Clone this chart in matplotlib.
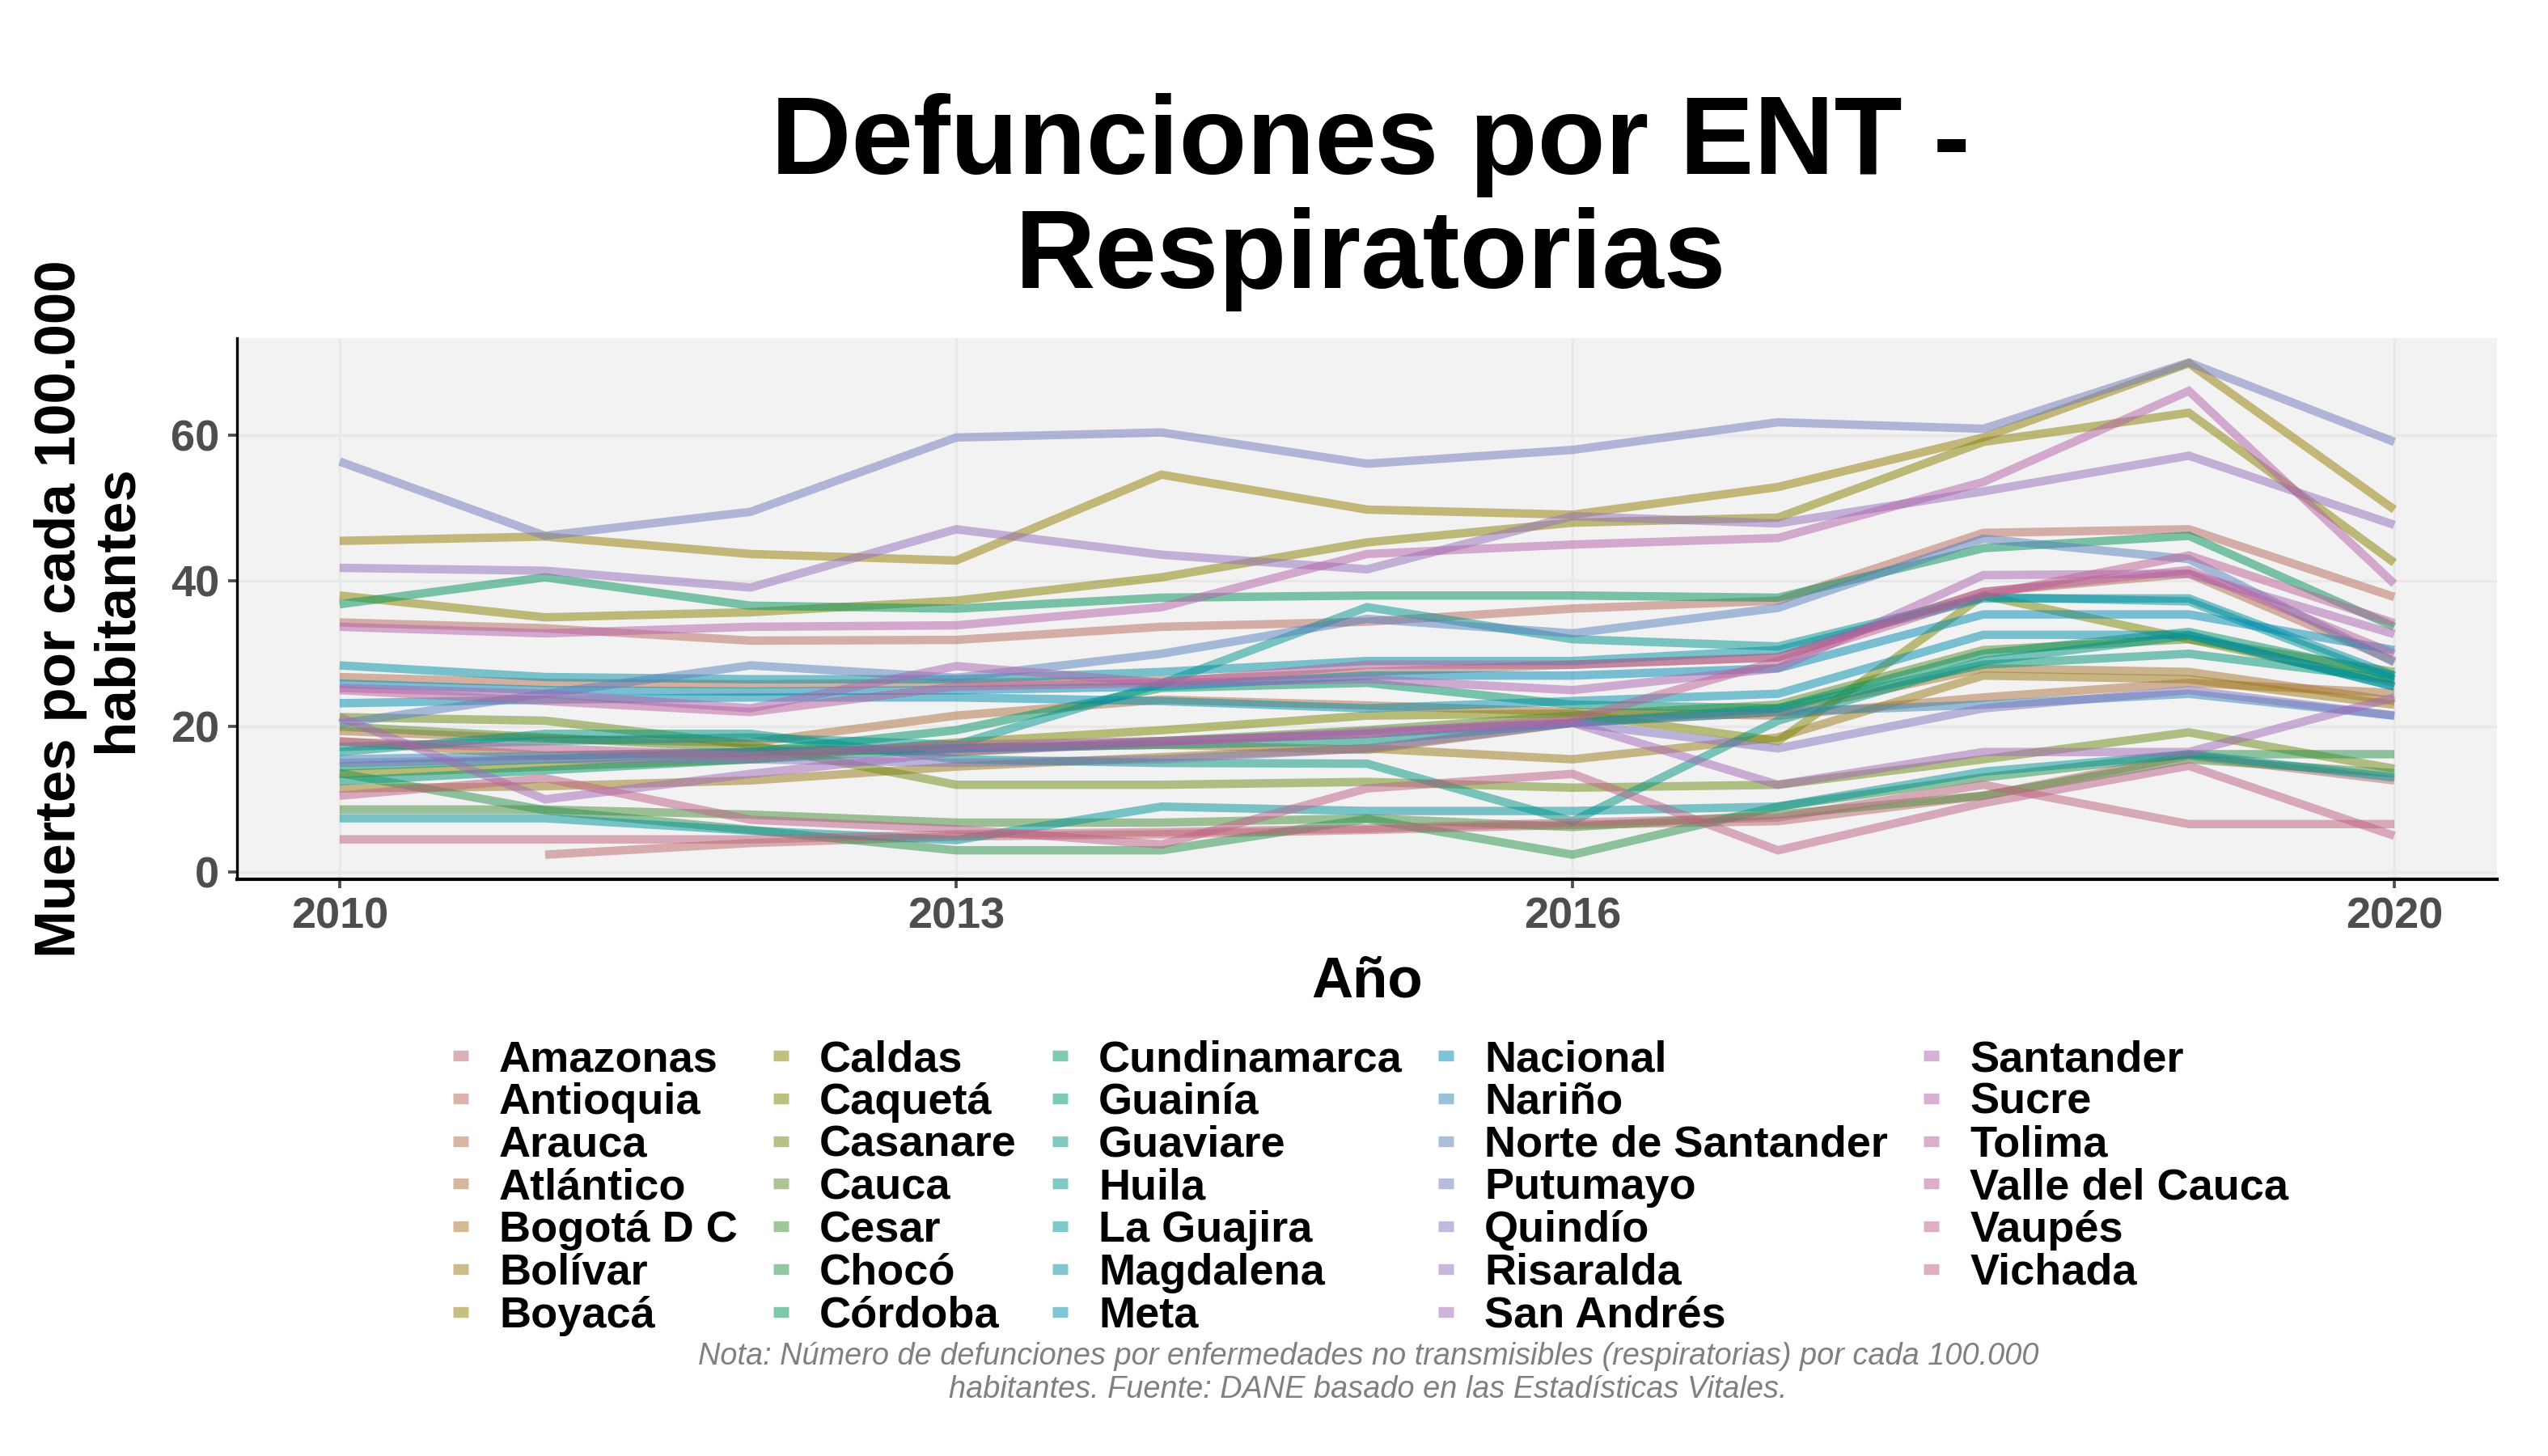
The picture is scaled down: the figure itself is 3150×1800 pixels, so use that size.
"""Defunciones por ENT - Respiratorias: líneas por departamento."""

import numpy as np
import matplotlib
matplotlib.use("Agg")
import matplotlib.pyplot as plt
from matplotlib.lines import Line2D

# ---------------------------------------------------------------------------
# Data (muertes por cada 100.000 habitantes)
# ---------------------------------------------------------------------------

YEARS = [2010, 2011, 2012, 2013, 2014, 2015, 2016, 2017, 2018, 2019, 2020]
X_TICKS = [2010, 2013, 2016, 2020]
Y_TICKS = [0, 20, 40, 60]

NAN = np.nan
amazonas = [NAN, 2.4, 4.0, 4.9, 5.2, 5.8, 6.5, 7.0, 10.5, 16.0, 12.6]
antioquia = [34.3, 33.5, 31.8, 31.9, 33.7, 34.4, 36.2, 37.3, 46.6, 47.1, 37.8]
arauca = [26.8, 26.0, 25.8, 26.0, 26.3, 27.5, 28.5, 29.5, 38.5, 41.0, 29.0]
atlantico = [19.4, 18.3, 17.8, 21.5, 23.7, 22.9, 22.0, 21.5, 24.0, 26.0, 24.6]
bogota = [18.0, 16.0, 16.5, 17.0, 17.5, 16.8, 20.5, 22.0, 28.0, 27.5, 23.5]
bolivar = [11.5, 11.8, 12.6, 14.5, 15.8, 17.0, 15.5, 18.5, 27.0, 26.5, 23.0]
boyaca = [45.5, 46.1, 43.7, 42.8, 54.6, 49.8, 49.1, 52.9, 59.7, 69.9, 49.8]
caldas = [38.0, 35.0, 35.7, 37.3, 40.5, 45.3, 48.0, 48.7, 59.1, 63.1, 42.5]
caqueta = [13.5, 14.5, 15.5, 17.8, 19.5, 21.5, 21.8, 18.0, 38.0, 32.0, 26.0]
casanare = [21.3, 20.8, 17.5, 12.0, 12.0, 12.4, 11.6, 12.0, 15.5, 19.2, 14.2]
cauca = [20.0, 18.5, 17.0, 16.5, 18.0, 19.5, 21.5, 23.0, 30.5, 32.0, 27.5]
cesar = [8.6, 8.6, 7.9, 6.8, 6.8, 7.4, 6.2, 7.9, 10.5, 15.5, 13.6]
choco = [13.6, 8.5, 5.8, 3.0, 3.0, 7.3, 2.4, 9.0, 13.0, 16.2, 16.2]
cordoba = [36.8, 40.5, 36.6, 36.2, 37.7, 38.0, 38.0, 37.7, 44.5, 46.2, 33.7]
cundinamarca = [14.5, 15.5, 16.5, 19.5, 25.3, 26.0, 23.0, 22.5, 30.0, 33.0, 27.0]
guainia = [12.5, 14.0, 15.5, 17.0, 17.5, 18.0, 20.5, 22.5, 28.5, 30.0, 26.5]
guaviare = [16.5, 19.0, 19.0, 15.5, 15.0, 14.9, 7.0, 20.8, 29.0, 32.5, 25.5]
huila = [17.2, 18.0, 18.5, 17.5, 25.9, 36.4, 32.0, 31.0, 37.8, 37.2, 26.5]
la_guajira = [7.4, 7.4, 5.7, 4.4, 9.0, 8.4, 8.4, 9.0, 13.8, 16.2, 13.0]
magdalena = [28.4, 26.8, 26.5, 26.5, 27.5, 29.0, 29.0, 30.5, 37.6, 37.6, 27.0]
meta = [23.2, 23.7, 24.0, 24.0, 23.5, 22.5, 23.5, 24.5, 32.6, 32.6, 25.5]
nacional = [25.9, 25.0, 24.8, 25.0, 25.5, 27.0, 27.0, 28.0, 35.4, 35.4, 30.5]
narino = [15.5, 16.0, 16.5, 17.0, 18.0, 19.0, 20.5, 22.0, 23.0, 24.5, 21.5]
norte_santander = [20.4, 24.5, 28.4, 26.7, 30.0, 34.8, 32.8, 36.3, 45.8, 43.0, 28.8]
putumayo = [56.4, 46.2, 49.5, 59.7, 60.4, 56.1, 58.0, 61.8, 60.9, 70.0, 59.1]
quindio = [15.0, 15.5, 15.5, 15.0, 15.5, 17.0, 20.5, 17.0, 22.5, 25.0, 21.5]
risaralda = [41.8, 41.4, 39.1, 47.1, 43.6, 41.6, 48.9, 47.9, 52.3, 57.2, 47.7]
san_andres = [21.3, 10.0, 13.5, 16.5, 17.8, 19.3, 20.5, 12.0, 16.5, 16.5, 24.0]
santander = [25.3, 24.5, 22.5, 28.3, 26.0, 26.5, 25.0, 28.0, 40.8, 41.0, 32.7]
sucre = [33.7, 32.8, 33.7, 33.9, 36.4, 43.7, 45.0, 45.9, 53.6, 66.1, 39.6]
tolima = [25.0, 23.5, 22.0, 25.5, 26.0, 28.5, 28.5, 29.5, 38.5, 41.5, 30.0]
valle = [17.9, 17.0, 16.0, 17.5, 18.0, 19.0, 21.0, 29.0, 38.0, 43.5, 34.2]
vaupes = [10.5, 12.9, 7.2, 5.9, 3.8, 11.5, 13.5, 3.0, 9.5, 14.6, 5.0]
vichada = [4.5, 4.5, 4.5, 5.2, 5.5, 6.0, 6.8, 7.5, 12.0, 6.6, 6.6]

DEPARTAMENTOS = [
    "Amazonas", "Antioquia", "Arauca", "Atlántico", "Bogotá D C", "Bolívar",
    "Boyacá", "Caldas", "Caquetá", "Casanare", "Cauca", "Cesar", "Chocó",
    "Córdoba", "Cundinamarca", "Guainía", "Guaviare", "Huila", "La Guajira",
    "Magdalena", "Meta", "Nacional", "Nariño", "Norte de Santander",
    "Putumayo", "Quindío", "Risaralda", "San Andrés", "Santander", "Sucre",
    "Tolima", "Valle del Cauca", "Vaupés", "Vichada",
]
SERIES = [
    amazonas, antioquia, arauca, atlantico, bogota, bolivar, boyaca, caldas,
    caqueta, casanare, cauca, cesar, choco, cordoba, cundinamarca, guainia,
    guaviare, huila, la_guajira, magdalena, meta, nacional, narino,
    norte_santander, putumayo, quindio, risaralda, san_andres, santander,
    sucre, tolima, valle, vaupes, vichada,
]

TITLE = "Defunciones por ENT -\nRespiratorias"
CAPTION = ("Nota: Número de defunciones por enfermedades no transmisibles "
           "(respiratorias) por cada 100.000\nhabitantes. Fuente: DANE basado "
           "en las Estadísticas Vitales.")

FONT = "Liberation Sans"
PANEL_BG = "#f2f2f2"
GRID_COLOR = "#e8e8e8"
TICK_COLOR = "#4d4d4d"
ALPHA = 0.5


def hcl_to_hex(h, c, l):
    """Polar CIE-Luv (HCL) to sRGB hex, like R's hcl()."""
    xn, yn, zn = 95.047, 100.0, 108.883
    un = 4 * xn / (xn + 15 * yn + 3 * zn)
    vn = 9 * yn / (xn + 15 * yn + 3 * zn)
    hr = np.deg2rad(h)
    u, v = c * np.cos(hr), c * np.sin(hr)
    y = yn * ((l + 16) / 116) ** 3 if l > 8 else yn * l / 903.3
    up = u / (13 * l) + un
    vp = v / (13 * l) + vn
    x = y * 9 * up / (4 * vp)
    z = y * (12 - 3 * up - 20 * vp) / (4 * vp)
    x, y, z = x / 100, y / 100, z / 100
    r = 3.2406 * x - 1.5372 * y - 0.4986 * z
    g = -0.9689 * x + 1.8758 * y + 0.0415 * z
    b = 0.0557 * x - 0.2040 * y + 1.0570 * z

    def gamma(t):
        t = min(max(t, 0.0), 1.0)
        return 12.92 * t if t <= 0.0031308 else 1.055 * t ** (1 / 2.4) - 0.055

    return "#{:02x}{:02x}{:02x}".format(*(int(round(gamma(t) * 255)) for t in (r, g, b)))


def hue_palette(n, c=60, l=53, h0=8):
    hues = h0 + np.arange(n) * 360.0 / n
    return [hcl_to_hex(h % 360, c, l) for h in hues]


def main():
    plt.rcParams["font.family"] = [FONT, "DejaVu Sans"]
    colors = hue_palette(len(DEPARTAMENTOS))

    fig = plt.figure(figsize=(10.5, 6.0), dpi=300)
    ax = fig.add_axes([0.093, 0.396, 0.887, 0.372])
    ax.set_facecolor(PANEL_BG)

    for name, vals, col in zip(DEPARTAMENTOS, SERIES, colors):
        ax.plot(YEARS, vals, color=col, alpha=ALPHA, lw=2.5,
                solid_capstyle="butt", solid_joinstyle="miter", label=name)

    ax.set_xlim(2009.5, 2020.5)
    ax.set_ylim(-1.0, 73.4)
    ax.set_xticks(X_TICKS)
    ax.set_yticks(Y_TICKS)
    ax.tick_params(axis="both", colors=TICK_COLOR, labelsize=13, length=2.7,
                   width=0.9, pad=2.5)
    for lab in ax.get_xticklabels() + ax.get_yticklabels():
        lab.set_fontweight("bold")
    ax.grid(True, color=GRID_COLOR, lw=0.8)
    ax.set_axisbelow(True)
    for side in ("top", "right"):
        ax.spines[side].set_visible(False)
    ax.spines["left"].set_linewidth(0.8)
    ax.spines["bottom"].set_linewidth(1.0)

    ax.set_xlabel("Año", fontsize=17, fontweight="bold")
    ax.xaxis.label.set_va("center")
    ax.xaxis.set_label_coords(0.5, -0.19)
    ax.set_ylabel("Muertes por cada 100.000\nhabitantes", fontsize=17,
                  fontweight="bold", linespacing=1.06)
    ax.yaxis.label.set_va("center")
    ax.yaxis.set_label_coords(-0.0655, 0.5)

    fig.text(0.538, 0.861, TITLE, ha="center", va="center", fontsize=33,
             fontweight="bold", linespacing=1.12)

    handles = [Line2D([0], [0], color=col, alpha=ALPHA, lw=3.2,
                      solid_capstyle="butt") for col in colors]
    ax.legend(handles, DEPARTAMENTOS, ncol=5, loc="upper center",
              bbox_to_anchor=(0.538, 0.301), bbox_transform=fig.transFigure,
              frameon=False, prop={"weight": "bold", "size": 13},
              handlelength=0.35, handletextpad=0.7, columnspacing=0.82,
              labelspacing=0.05, borderpad=0.0)

    fig.text(0.537, 0.057, CAPTION, ha="center", va="center", fontsize=9.1,
             style="italic", color="#808080", linespacing=1.2)

    fig.savefig("out.png", dpi=300, facecolor="white")
    plt.close(fig)


if __name__ == "__main__":
    main()
